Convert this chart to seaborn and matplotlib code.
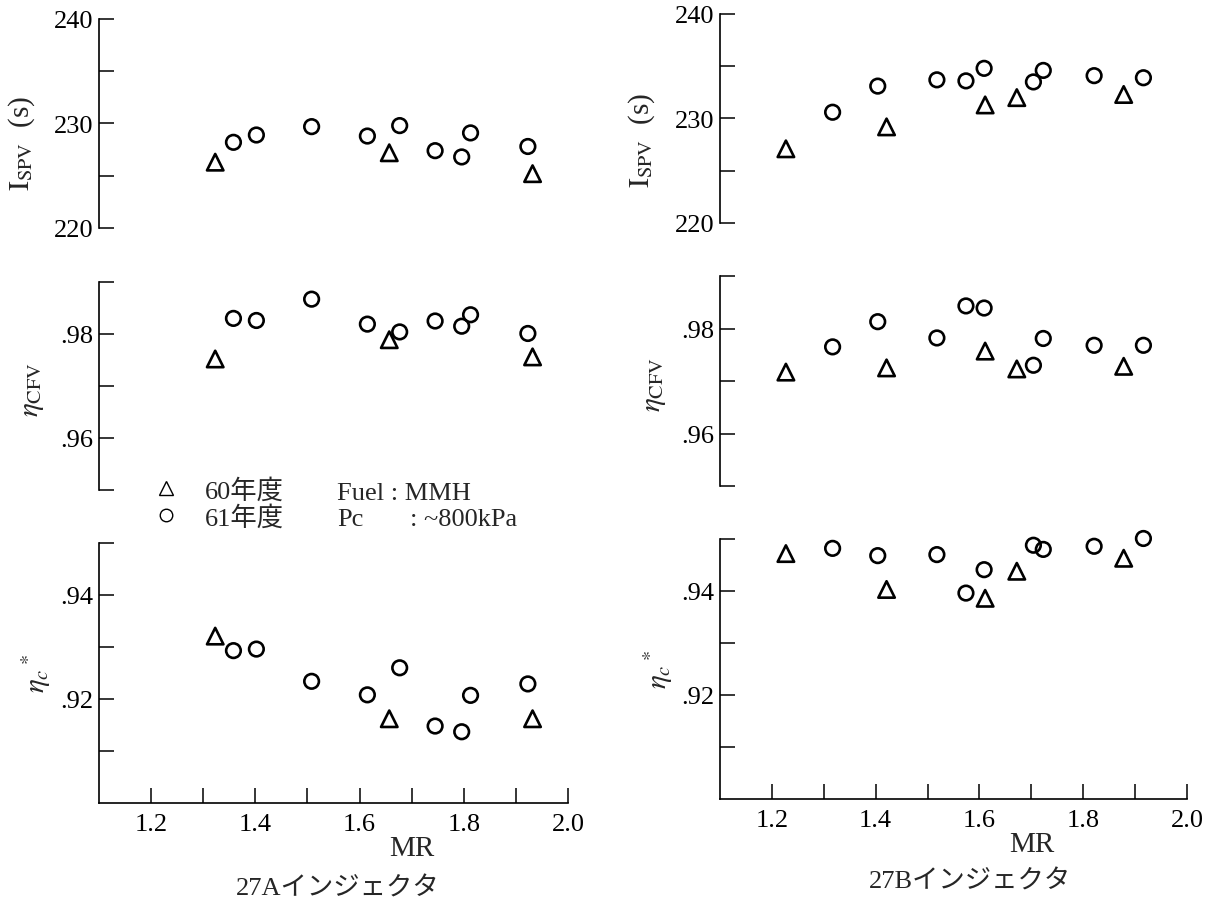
import numpy as np
import pandas as pd
import matplotlib
matplotlib.use("Agg")
import matplotlib.pyplot as plt
from matplotlib.lines import Line2D
from matplotlib.font_manager import FontProperties
import seaborn as sns

# ---------------- data ----------------
# 27A injector
mr_a_60 = [1.323, 1.657, 1.932]
mr_a_61 = [1.358, 1.402, 1.508, 1.615, 1.677, 1.745, 1.796, 1.813, 1.923]
isp_a_60 = [226.3, 227.2, 225.2]
isp_a_61 = [228.2, 228.9, 229.7, 228.8, 229.8, 227.4, 226.8, 229.1, 227.8]
cfv_a_60 = [0.9752, 0.9789, 0.9756]
cfv_a_61 = [0.9830, 0.9826, 0.9867, 0.9819, 0.9804, 0.9825, 0.9815, 0.9837, 0.9801]
cst_a_60 = [0.9321, 0.9162, 0.9162]
cst_a_61 = [0.9293, 0.9296, 0.9234, 0.9208, 0.9260, 0.9148, 0.9137, 0.9207, 0.9229]

# 27B injector
mr_b_60 = [1.227, 1.421, 1.611, 1.672, 1.878]
mr_b_61 = [1.317, 1.404, 1.518, 1.574, 1.609, 1.704, 1.723, 1.821, 1.916]
isp_b_60 = [227.1, 229.2, 231.3, 232.0, 232.3]
isp_b_61 = [230.6, 233.1, 233.7, 233.6, 234.8, 233.5, 234.6, 234.1, 233.9]
cfv_b_60 = [0.9717, 0.9725, 0.9757, 0.9723, 0.9728]
cfv_b_61 = [0.9765, 0.9813, 0.9782, 0.9843, 0.9839, 0.9730, 0.9781, 0.9768, 0.9768]
cst_b_60 = [0.9472, 0.9403, 0.9386, 0.9438, 0.9463]
cst_b_61 = [0.9482, 0.9468, 0.9470, 0.9396, 0.9441, 0.9488, 0.9480, 0.9486, 0.9501]

legend_labels = ["60年度", "61年度"]
captions = ["27Aインジェクタ", "27Bインジェクタ"]
xticks = [1.2, 1.3, 1.4, 1.5, 1.6, 1.7, 1.8, 1.9, 2.0]
xticklabels = ["1.2", "", "1.4", "", "1.6", "", "1.8", "", "2.0"]
isp_ticks = [220, 225, 230, 235, 240]
isp_labels = ["220", "", "230", "", "240"]
cfv_ticks = [0.95, 0.96, 0.97, 0.98, 0.99]
cfv_labels = ["", ".96", "", ".98", ""]
cst_ticks = [0.91, 0.92, 0.93, 0.94, 0.95]
cst_labels = ["", ".92", "", ".94", ""]

# ---------------- style ----------------
sns.set_style("ticks")
plt.rcParams["font.family"] = ["Liberation Serif", "Noto Sans CJK JP", "DejaVu Sans"]
plt.rcParams["mathtext.fontset"] = "stix"
plt.rcParams["axes.linewidth"] = 1.2
plt.rcParams["axes.edgecolor"] = "black"

W, H = 1218, 903
fig = plt.figure(figsize=(W / 100, H / 100), dpi=100)


def add_ax(x0, x1, ytop, ybot):
    return fig.add_axes([x0 / W, (H - ybot) / H, (x1 - x0) / W, (ybot - ytop) / H])


TICK_FS = 19
LAB_FS = 21


def draw(ax, mr60, y60, mr61, y61):
    sns.scatterplot(x=mr61, y=y61, marker="o", s=110, color="black", ax=ax,
                    linewidth=1.9, clip_on=False, zorder=3, legend=False)
    ax.collections[-1].set_facecolor("none")
    ax.collections[-1].set_edgecolor("black")
    sns.scatterplot(x=mr60, y=y60, marker="^", s=140, color="black", ax=ax,
                    linewidth=1.9, clip_on=False, zorder=3, legend=False)
    ax.collections[-1].set_facecolor("none")
    ax.collections[-1].set_edgecolor("black")


def style_ax(ax, yticks, ylabels, ylim, bottom_axis):
    ax.set_xlim(1.1, 2.0)
    ax.set_ylim(*ylim)
    ax.set_yticks(yticks, labels=ylabels)
    ax.spines["top"].set_visible(False)
    ax.spines["right"].set_visible(False)
    ax.tick_params(axis="y", direction="in", length=11, width=1.1, pad=4,
                   labelsize=TICK_FS, colors="black")
    if bottom_axis:
        ax.set_xticks(xticks, labels=xticklabels)
        ax.tick_params(axis="x", direction="in", length=11, width=1.1, pad=7,
                       labelsize=TICK_FS, colors="black")
    else:
        ax.spines["bottom"].set_visible(False)
        ax.set_xticks([])
    ax.grid(False)


columns = [
    dict(x0=99, x1=568, boxes=[(20, 229), (283, 491), (544, 804)],
         data=[(mr_a_60, isp_a_60, mr_a_61, isp_a_61),
               (mr_a_60, cfv_a_60, mr_a_61, cfv_a_61),
               (mr_a_60, cst_a_60, mr_a_61, cst_a_61)],
         ylx=[-0.165, -0.140, -0.135], yly=[0.41, 0.49, 0.50], cap=captions[0], capx=0.508,
         capy=-0.325),
    dict(x0=720, x1=1187, boxes=[(15, 224), (277, 487), (540, 800)],
         data=[(mr_b_60, isp_b_60, mr_b_61, isp_b_61),
               (mr_b_60, cfv_b_60, mr_b_61, cfv_b_61),
               (mr_b_60, cst_b_60, mr_b_61, cst_b_61)],
         ylx=[-0.167, -0.140, -0.132], yly=[0.40, 0.49, 0.50], cap=captions[1], capx=0.535,
         capy=-0.315),
]

ylabels = [r"$\mathrm{I_{SPV}}$  (s)", r"$\eta_{\mathrm{CFV}}$", r"$\eta_{c}\,{}^{*}$"]
yticks_all = [(isp_ticks, isp_labels, (220, 240)),
              (cfv_ticks, cfv_labels, (0.95, 0.99)),
              (cst_ticks, cst_labels, (0.90, 0.95))]

axes = []
for col in columns:
    col_axes = []
    for i, (ytop, ybot) in enumerate(col["boxes"]):
        ax = add_ax(col["x0"], col["x1"], ytop, ybot)
        draw(ax, *col["data"][i])
        t, l, lim = yticks_all[i]
        style_ax(ax, t, l, lim, bottom_axis=(i == 2))
        ax.set_ylabel(ylabels[i], fontsize=LAB_FS, va="center")
        ax.yaxis.set_label_coords(col["ylx"][i], col["yly"][i])
        col_axes.append(ax)
    axb = col_axes[2]
    axb.set_xlabel("MR", fontsize=LAB_FS, va="center")
    axb.xaxis.set_label_coords(0.667, -0.175)
    axb.text(col["capx"], col["capy"], col["cap"], transform=axb.transAxes,
             ha="center", va="center", fontsize=19)
    axes.append(col_axes)

# ---------------- legend / notes ----------------
handles = [Line2D([], [], marker="^", ls="none", mfc="none", mec="black", ms=10, mew=1.0),
           Line2D([], [], marker="o", ls="none", mfc="none", mec="black", ms=9, mew=1.0)]
fp = FontProperties(family=["Liberation Serif", "Noto Sans CJK JP"], size=19)
leg = fig.legend(handles, legend_labels, loc="upper left",
                 bbox_to_anchor=(153 / W, 1 - 479 / H), frameon=False, prop=fp,
                 handlelength=1.0, handletextpad=0.95, borderpad=0, borderaxespad=0,
                 labelspacing=0.08)

fig.text(337 / W, 1 - 494 / H, "Fuel : MMH", fontsize=19, va="center", ha="left")
fig.text(337 / W, 1 - 520 / H, "Pc", fontsize=19, va="center", ha="left")
fig.text(410 / W, 1 - 520 / H, ": ~800kPa", fontsize=19, va="center", ha="left")

fig.savefig("out.png", dpi=100, facecolor="white")
